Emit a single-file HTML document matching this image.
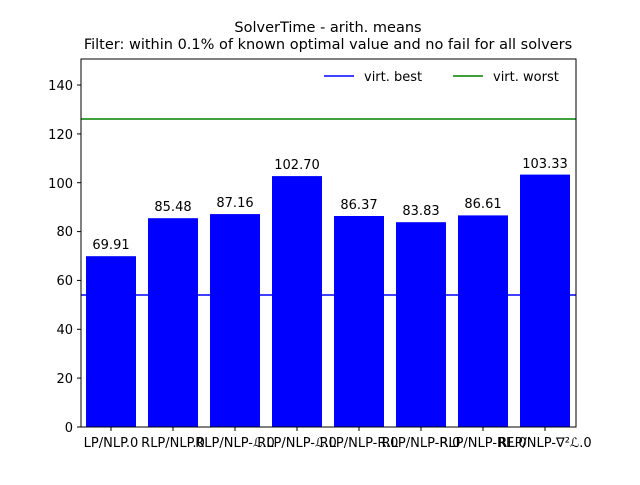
<!DOCTYPE html><html><head><style>body{margin:0;background:#fff}</style></head><body>
<svg width="640" height="480" xmlns="http://www.w3.org/2000/svg" font-family="DejaVu Sans, Liberation Sans, sans-serif">
<rect width="640" height="480" fill="#fff"/>
<text x="328" y="32" font-size="14.5" text-anchor="middle">SolverTime - arith. means</text>
<text x="328" y="49" font-size="14.5" text-anchor="middle">Filter: within 0.1% of known optimal value and no fail for all solvers</text>
<g fill="#0000ff">
<rect x="86" y="256.2" width="50" height="170.8"/>
<rect x="148" y="218.2" width="50" height="208.8"/>
<rect x="210" y="214.1" width="50" height="212.9"/>
<rect x="272" y="176.1" width="50" height="250.9"/>
<rect x="334" y="216" width="50" height="211"/>
<rect x="396" y="222.2" width="50" height="204.8"/>
<rect x="458" y="215.4" width="50" height="211.6"/>
<rect x="520" y="174.6" width="50" height="252.4"/>
</g>
<g font-size="13" text-anchor="middle">
<text x="111" y="249">69.91</text><text x="173" y="211">85.48</text><text x="235" y="207">87.16</text><text x="297" y="169">102.70</text>
<text x="359" y="209">86.37</text><text x="421" y="215">83.83</text><text x="483" y="208">86.61</text><text x="545" y="168">103.33</text>
</g>
<line x1="81" y1="295" x2="576" y2="295" stroke="#0000ff" stroke-width="1.5"/>
<line x1="81" y1="119" x2="576" y2="119" stroke="#008000" stroke-width="1.5"/>
<rect x="81" y="59" width="495" height="368" fill="none" stroke="#000" stroke-width="1"/>
<g font-size="13" text-anchor="end" stroke="#000">
<line x1="77" y1="427" x2="81" y2="427"/><line x1="77" y1="378.1" x2="81" y2="378.1"/><line x1="77" y1="329.3" x2="81" y2="329.3"/><line x1="77" y1="280.4" x2="81" y2="280.4"/><line x1="77" y1="231.6" x2="81" y2="231.6"/><line x1="77" y1="182.7" x2="81" y2="182.7"/><line x1="77" y1="133.9" x2="81" y2="133.9"/><line x1="77" y1="85" x2="81" y2="85"/>
</g>
<g font-size="13" text-anchor="end">
<text x="73" y="432">0</text><text x="73" y="383">20</text><text x="73" y="334">40</text><text x="73" y="285">60</text><text x="73" y="236">80</text><text x="73" y="188">100</text><text x="73" y="139">120</text><text x="73" y="90">140</text>
</g>
<g stroke="#000"><line x1="111" y1="427" x2="111" y2="431"/><line x1="173" y1="427" x2="173" y2="431"/><line x1="235" y1="427" x2="235" y2="431"/><line x1="297" y1="427" x2="297" y2="431"/><line x1="359" y1="427" x2="359" y2="431"/><line x1="421" y1="427" x2="421" y2="431"/><line x1="483" y1="427" x2="483" y2="431"/><line x1="545" y1="427" x2="545" y2="431"/></g>
<g font-size="13" text-anchor="middle">
<text x="111" y="447">LP/NLP.0</text><text x="173" y="447">RLP/NLP.0</text><text x="235" y="447">RLP/NLP-ℒ.0</text><text x="297" y="447">RLP/NLP-ℒ.0</text>
<text x="359" y="447">RLP/NLP-R.0</text><text x="421" y="447">RLP/NLP-R.0</text><text x="483" y="447">RLP/NLP-RE.0</text><text x="545" y="447">RLP/NLP-∇²ℒ.0</text>
</g>
<line x1="324" y1="76" x2="354" y2="76" stroke="#0000ff" stroke-width="1.5"/>
<text x="364" y="81" font-size="13">virt. best</text>
<line x1="453" y1="76" x2="483" y2="76" stroke="#008000" stroke-width="1.5"/>
<text x="493" y="81" font-size="13">virt. worst</text>
</svg></body></html>
